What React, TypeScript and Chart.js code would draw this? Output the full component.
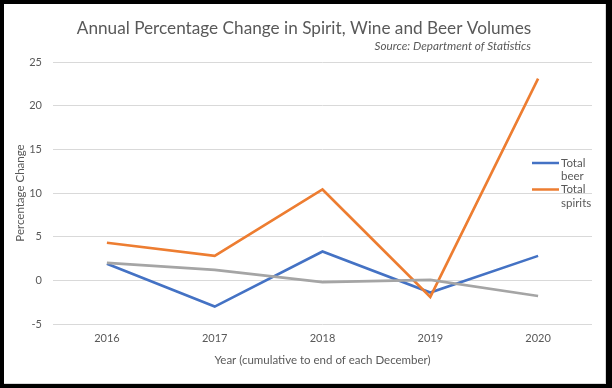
import React, { useEffect, useRef } from 'react';
import { Chart, registerables } from 'chart.js';

Chart.register(...registerables);

const years = ['2016', '2017', '2018', '2019', '2020'];
const beer = [1.9, -3.0, 3.3, -1.4, 2.8];
const spirits = [4.3, 2.8, 10.4, -1.9, 23.1];
const wine = [2.0, 1.2, -0.2, 0.05, -1.8];
const seriesLabels = ['Total beer', 'Total spirits', 'Total wine'];
const seriesColors = ['#4472C4', '#ED7D31', '#A5A5A5'];
const legendShown = [true, true, false];
const yTicks = { min: -5, max: 25, step: 5 };

const titleText = 'Annual Percentage Change in Spirit, Wine and Beer Volumes';
const subtitleText = 'Source: Department of Statistics';
const xTitle = 'Year (cumulative to end of each December)';
const yTitle = 'Percentage Change';

const FONT = 'Lato, "Open Sans", sans-serif';
const TEXT = '#595959';

const overlay = {
  id: 'overlay',
  afterDraw(chart: any) {
    const ctx = chart.ctx as CanvasRenderingContext2D;
    ctx.save();
    ctx.fillStyle = TEXT;
    ctx.textBaseline = 'middle';
    ctx.textAlign = 'center';
    ctx.font = `17.2px ${FONT}`;
    ctx.fillText(titleText, 304, 28);
    ctx.textAlign = 'right';
    ctx.font = `italic 11.7px ${FONT}`;
    ctx.fillText(subtitleText, 531, 46);

    // legend
    ctx.textAlign = 'left';
    ctx.font = `11.5px ${FONT}`;
    let y = 163;
    chart.data.datasets.forEach((ds: any, i: number) => {
      if (!legendShown[i]) return;
      ctx.strokeStyle = ds.borderColor;
      ctx.lineWidth = 2.5;
      ctx.beginPath();
      ctx.moveTo(532, y);
      ctx.lineTo(559, y);
      ctx.stroke();
      const words = String(ds.label).split(' ');
      words.forEach((w: string, j: number) => {
        ctx.fillText(w, 561, y + j * 13.5);
      });
      y += 26.5;
    });
    ctx.restore();
  },
};

export default function App() {
  const ref = useRef<HTMLCanvasElement>(null);
  useEffect(() => {
    if (!ref.current) return;
    const data = [beer, spirits, wine];
    const chart = new Chart(ref.current, {
      type: 'line',
      data: {
        labels: years,
        datasets: data.map((d, i) => ({
          label: seriesLabels[i],
          data: d,
          borderColor: seriesColors[i],
          backgroundColor: seriesColors[i],
          borderWidth: 2.6,
          pointRadius: 0,
          tension: 0,
          order: 3 - i,
        })),
      },
      options: {
        animation: false,
        responsive: false,
        layout: { padding: { top: 62, right: 20, left: 0, bottom: 0 } },
        plugins: {
          legend: { display: false },
          title: { display: false },
          tooltip: { enabled: false },
        },
        scales: {
          x: {
            offset: true,
            grid: { display: false, drawTicks: false },
            border: { display: false },
            ticks: { color: TEXT, font: { family: FONT, size: 11 }, padding: 8 },
            title: {
              display: true,
              text: xTitle,
              color: TEXT,
              font: { family: FONT, size: 11.5 },
              padding: { top: 0, bottom: 21 },
            },
            afterFit(scale: any) {
              scale.height = 64;
            },
          },
          y: {
            min: yTicks.min,
            max: yTicks.max,
            grid: { color: '#D9D9D9', lineWidth: 1, drawTicks: false },
            border: { display: false },
            ticks: {
              stepSize: yTicks.step,
              color: TEXT,
              font: { family: FONT, size: 11 },
              padding: 11,
            },
            title: {
              display: true,
              text: yTitle,
              color: TEXT,
              font: { family: FONT, size: 11.5 },
              padding: { top: 13, bottom: 0 },
            },
            afterFit(scale: any) {
              scale.width = 53;
            },
          },
        },
      },
      plugins: [overlay],
    });
    return () => chart.destroy();
  }, []);

  return (
    <div style={{ position: 'fixed', left: 0, top: 0, width: 612, height: 388, background: '#000' }}>
      <div
        style={{
          position: 'absolute',
          left: 4,
          top: 4,
          width: 601,
          height: 379,
          background: '#fff',
          borderRight: '1px solid #D9D9D9',
          borderBottom: '1px solid #D9D9D9',
        }}
      />
      <canvas ref={ref} width={612} height={388} style={{ position: 'absolute', left: 0, top: 0 }} />
    </div>
  );
}
